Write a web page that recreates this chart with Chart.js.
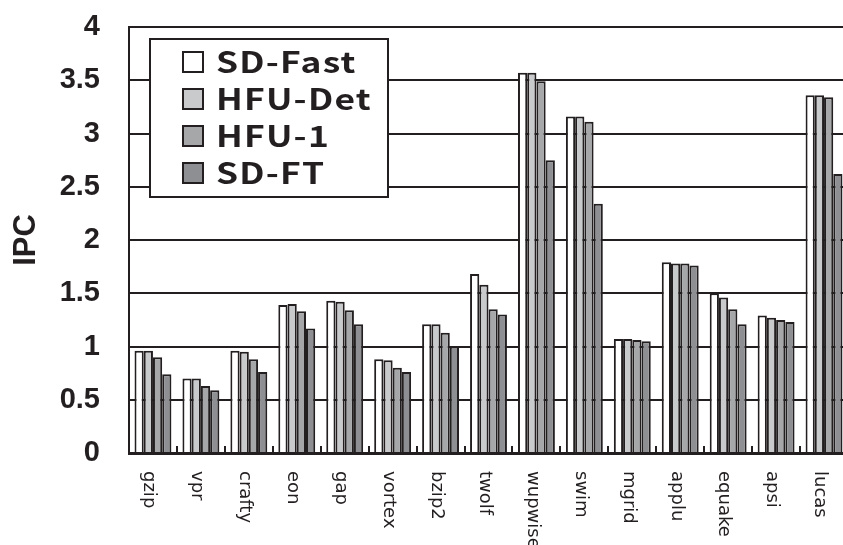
<!DOCTYPE html>
<html>
<head>
<meta charset="utf-8">
<script src="https://cdn.jsdelivr.net/npm/chart.js@4.4.1/dist/chart.umd.min.js"></script>
<style>
  html, body { margin: 0; padding: 0; background: #fff; overflow: hidden; }
</style>
</head>
<body>
<canvas id="chart" width="860" height="545"></canvas>
<script>
const kategorien = ["gzip", "vpr", "crafty", "eon", "gap", "vortex", "bzip2", "twolf",
  "wupwise", "swim", "mgrid", "applu", "equake", "apsi", "lucas"];

const sdFast  = [0.96, 0.70, 0.96, 1.39, 1.43, 0.88, 1.21, 1.68, 3.57, 3.16, 1.07, 1.79, 1.50, 1.29, 3.36];
const hfuDet  = [0.96, 0.70, 0.95, 1.40, 1.42, 0.87, 1.21, 1.58, 3.57, 3.16, 1.07, 1.78, 1.46, 1.27, 3.36];
const hfu1    = [0.90, 0.63, 0.88, 1.33, 1.34, 0.80, 1.13, 1.35, 3.49, 3.11, 1.06, 1.78, 1.35, 1.25, 3.34];
const sdFT    = [0.74, 0.59, 0.76, 1.17, 1.21, 0.76, 1.00, 1.30, 2.75, 2.34, 1.05, 1.76, 1.21, 1.23, 2.62];

const yTicks = [0, 0.5, 1, 1.5, 2, 2.5, 3, 3.5, 4];

const schwarz = "#231f20";
const farben = ["#ffffff", "#c9cacb", "#a5a7a9", "#8e8f92"];

// x labels (rotated clockwise), small inner ticks and the boxed legend
const extras = {
  id: "extras",
  afterDatasetsDraw(chart) {
    const ctx = chart.ctx;
    const x = chart.scales.x;
    const area = chart.chartArea;
    ctx.save();

    ctx.strokeStyle = schwarz;
    ctx.lineWidth = 2;
    for (let i = 1; i < kategorien.length; i++) {
      const px = Math.round((x.getPixelForValue(i - 1) + x.getPixelForValue(i)) / 2);
      ctx.beginPath();
      ctx.moveTo(px, area.bottom);
      ctx.lineTo(px, area.bottom - 7);
      ctx.stroke();
    }

    ctx.font = '18px "DejaVu Sans"';
    ctx.fillStyle = schwarz;
    ctx.textAlign = "left";
    ctx.textBaseline = "middle";
    kategorien.forEach(function (k, i) {
      const px = x.getPixelForValue(i) - 4;
      ctx.save();
      ctx.translate(px, area.bottom + 18);
      ctx.rotate(Math.PI / 2);
      ctx.fillText(k, 0, 0);
      ctx.restore();
    });

    // legend
    const lx = area.left + 21;
    const ly = area.top + 12;
    ctx.fillStyle = "#fff";
    ctx.fillRect(lx, ly, 238, 158);
    ctx.strokeRect(lx, ly, 238, 158);
    ctx.font = 'bold 29px "Noto Sans CJK JP"';
    ctx.letterSpacing = "1px";
    ctx.textBaseline = "alphabetic";
    chart.data.datasets.forEach(function (ds, i) {
      const cy = ly + 23 + i * 37;
      ctx.fillStyle = ds.backgroundColor;
      ctx.fillRect(lx + 33, cy - 10, 20, 20);
      ctx.strokeRect(lx + 33, cy - 10, 20, 20);
      ctx.fillStyle = schwarz;
      ctx.save();
      ctx.translate(lx + 66, cy + 11);
      ctx.scale(1.22, 1);
      ctx.fillText(ds.label, 0, 0);
      ctx.restore();
    });

    ctx.restore();
  }
};

const namen = ["SD-Fast", "HFU-Det", "HFU-1", "SD-FT"];
const reihen = [sdFast, hfuDet, hfu1, sdFT];

new Chart(document.getElementById("chart"), {
  type: "bar",
  data: {
    labels: kategorien,
    datasets: reihen.map(function (r, i) {
      return {
        label: namen[i],
        data: r,
        backgroundColor: farben[i],
        borderColor: schwarz,
        borderWidth: 2,
        borderSkipped: "bottom",
        categoryPercentage: 0.77,
        barPercentage: 1.0
      };
    })
  },
  options: {
    responsive: false,
    animation: false,
    layout: { padding: { top: 27, right: 12, left: 0, bottom: 0 } },
    plugins: {
      legend: { display: false },
      tooltip: { enabled: false }
    },
    scales: {
      x: {
        grid: { display: false },
        border: { color: schwarz, width: 3 },
        ticks: { display: false },
        afterFit: function (s) { s.height = 92; }
      },
      y: {
        min: 0,
        max: 4,
        afterBuildTicks: function (s) { s.ticks = yTicks.map(v => ({ value: v })); },
        grid: { color: schwarz, lineWidth: 2, drawTicks: true, tickLength: 29, tickColor: "rgba(0,0,0,0)" },
        border: { color: schwarz, width: 2 },
        ticks: {
          padding: 0,
          color: schwarz,
          font: { family: '"Liberation Sans", Arial, sans-serif', size: 29, weight: "bold" },
          callback: function (v) { return String(v); }
        },
        title: {
          display: true,
          text: "IPC",
          color: schwarz,
          padding: { top: 8, bottom: 0 },
          font: { family: '"Liberation Sans", Arial, sans-serif', size: 31, weight: "bold" }
        },
        afterFit: function (s) { s.width = 129; }
      }
    }
  },
  plugins: [extras]
});
</script>
</body>
</html>
